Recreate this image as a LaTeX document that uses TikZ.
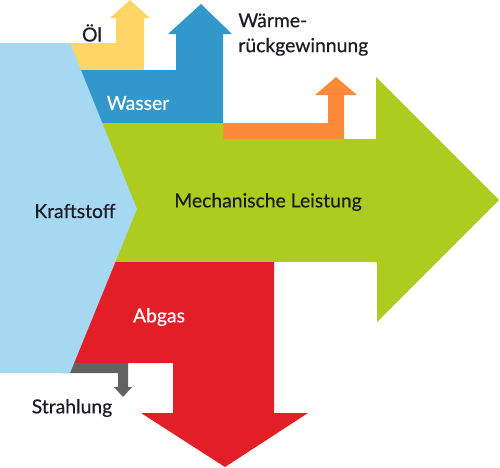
\documentclass[tikz,border=0pt]{standalone}
\usepackage{fontspec}
\setmainfont{Lato}[BoldFont={Lato}, BoldFeatures={FakeBold=0.5}]
\usepackage{tikz}
\usetikzlibrary{positioning}
\definecolor{fuel}{RGB}{166,216,242}
\definecolor{oil}{RGB}{255,213,102}
\definecolor{water}{RGB}{50,152,204}
\definecolor{heat}{RGB}{253,138,58}
\definecolor{power}{RGB}{174,203,32}
\definecolor{exhaust}{RGB}{226,30,38}
\definecolor{radiation}{RGB}{98,98,98}
\definecolor{ink}{RGB}{28,28,38}
\tikzset{
  flow/.style={draw=none},
  darklabel/.style={text=ink, font=\fontsize{11}{14.2}\selectfont\bfseries, inner sep=0pt},
  lightlabel/.style={text=white, font=\fontsize{11}{14.2}\selectfont\bfseries, inner sep=0pt},
}

\begin{document}
\begin{tikzpicture}[x=0.02cm, y=-0.02cm]
    \useasboundingbox (0,0) rectangle (500,467);

    \fill[flow, oil] (60,43) -- (116,43) -- (116,18) -- (110,18) -- (130,0)
        -- (150,18) -- (144,18) -- (144,70) -- (60,70) -- cycle;
    \fill[flow, water] (60,70) -- (176,70) -- (176,34) -- (168,34) -- (201,4)
        -- (232,34) -- (223,34) -- (223,123) -- (60,123) -- cycle;
    \fill[flow, heat] (223,123) -- (328,123) -- (328,95) -- (315,95) -- (336,77)
        -- (357,95) -- (344,95) -- (344,139) -- (223,139) -- cycle;
    \fill[flow, power] (60,123) -- (223,123) -- (223,139) -- (376,139) -- (376,77)
        -- (499,200) -- (377,322) -- (377,262) -- (60,262) -- cycle;
    \fill[flow, exhaust] (60,262) -- (274,262) -- (274,413) -- (308,413) -- (225,467)
        -- (141,413) -- (173,413) -- (173,363) -- (60,363) -- cycle;
    \fill[flow, radiation] (60,363) -- (128,363) -- (128,387) -- (132,387) -- (123,397)
        -- (114,387) -- (118,387) -- (118,373) -- (60,373) -- cycle;
    \fill[flow, fuel] (0,43) -- (70,43) -- (137,209) -- (70,373) -- (0,373) -- cycle;

    \node[darklabel] (oel) at (92,33) {Öl};
    \node[darklabel, anchor=west, align=left] (waerme) at (238,34.5) {Wärme-\\rückgewinnung};
    \node[lightlabel] (wasser) at (138,103) {Wasser};
    \node[darklabel] (kraftstoff) at (75,211) {Kraftstoff};
    \node[darklabel] (leistung) at (268,202) {Mechanische Leistung};
    \node[lightlabel] (abgas) at (159,317) {Abgas};
    \node[darklabel] (strahlung) at (72,408) {Strahlung};
\end{tikzpicture}
\end{document}
